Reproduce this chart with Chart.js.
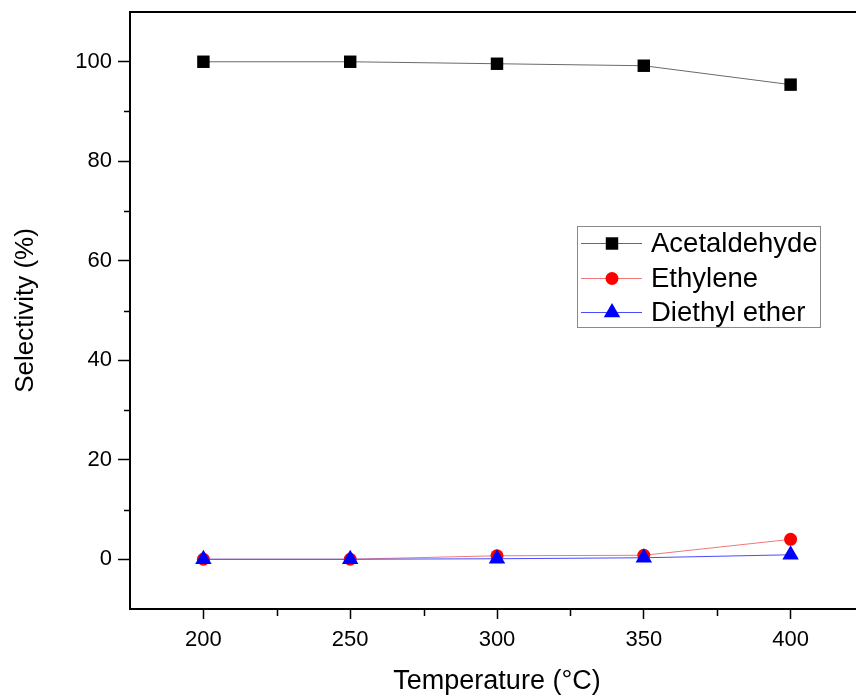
<!DOCTYPE html>
<html>
<head>
<meta charset="utf-8">
<script src="https://cdn.jsdelivr.net/npm/chart.js@4.4.1/dist/chart.umd.min.js"></script>
<style>
html,body{margin:0;padding:0;overflow:hidden;background:#fff;}
#wrap{width:856px;height:697px;overflow:hidden;position:relative;}
#inner{position:absolute;left:0;top:0;width:890px;height:697px;}
canvas{display:block;width:890px;height:697px;}
</style>
</head>
<body>
<div id="wrap"><div id="inner"><canvas id="c" width="890" height="697" style="width:890px;height:697px"></canvas></div></div>
<script>
const temperatures = [200, 250, 300, 350, 400];
const acetaldehyde = [100, 100, 99.6, 99.2, 95.4];
const ethylene = [0, 0, 0.7, 0.8, 4.0];
const diethylEther = [0, 0, 0.1, 0.3, 0.9];
const seriesNames = ['Acetaldehyde', 'Ethylene', 'Diethyl ether'];
const xTicks = [200, 250, 300, 350, 400];
const xMinorTicks = [225, 275, 325, 375, 425];
const yTicks = [0, 20, 40, 60, 80, 100];
const yMinorTicks = [10, 30, 50, 70, 90];

const FONT = '"Liberation Sans", Arial, sans-serif';
const PLOT_RIGHT = 864;
const toXY = (arr) => arr.map((v, i) => ({x: temperatures[i], y: v}));

const styles = [
  {line: '#6a6a6a', fill: '#000000', pointStyle: 'rect', radius: 8.8},
  {line: '#f07878', fill: '#ff0000', pointStyle: 'circle', radius: 6.5},
  {line: '#4a4aff', fill: '#0000ff', pointStyle: 'triangle', radius: 9.5}
];

const seriesData = [acetaldehyde, ethylene, diethylEther];
const datasets = seriesData.map((d, i) => ({
  label: seriesNames[i],
  data: toXY(d),
  borderColor: styles[i].line,
  borderWidth: 1,
  backgroundColor: styles[i].fill,
  pointStyle: styles[i].pointStyle,
  pointRadius: styles[i].radius,
  pointHoverRadius: styles[i].radius,
  pointBackgroundColor: styles[i].fill,
  pointBorderColor: styles[i].fill,
  pointBorderWidth: 0,
  tension: 0,
  clip: false,
  order: 2 - i
}));

const extras = {
  id: 'extras',
  afterDraw(chart) {
    const ctx = chart.ctx;
    const ca = chart.chartArea;
    const xs = chart.scales.x, ys = chart.scales.y;
    ctx.save();
    // top border
    ctx.strokeStyle = '#000';
    ctx.lineWidth = 2;
    ctx.beginPath();
    ctx.moveTo(ca.left - 1, ca.top);
    ctx.lineTo(ca.right, ca.top);
    ctx.stroke();
    // minor ticks
    ctx.lineWidth = 1.5;
    ctx.beginPath();
    yMinorTicks.forEach(v => {
      const py = Math.round(ys.getPixelForValue(v)) + 0.5;
      ctx.moveTo(ca.left, py);
      ctx.lineTo(ca.left - 6, py);
    });
    xMinorTicks.forEach(v => {
      const px = Math.round(xs.getPixelForValue(v)) + 0.5;
      ctx.moveTo(px, ca.bottom);
      ctx.lineTo(px, ca.bottom + 7);
    });
    ctx.stroke();
    // legend
    const bx = 577.5, by = 226.5, bw = 243, bh = 101;
    ctx.fillStyle = '#fff';
    ctx.fillRect(bx, by, bw, bh);
    ctx.strokeStyle = '#8a8a8a';
    ctx.lineWidth = 1;
    ctx.strokeRect(bx, by, bw, bh);
    const rows = [243, 278, 312];
    chart.data.datasets.forEach((ds, i) => {
      const ry = rows[i] + 0.5;
      ctx.strokeStyle = styles[i].line;
      ctx.lineWidth = 1;
      ctx.beginPath();
      ctx.moveTo(581, ry);
      ctx.lineTo(642, ry);
      ctx.stroke();
      ctx.fillStyle = styles[i].fill;
      ctx.strokeStyle = styles[i].fill;
      Chart.helpers.drawPoint(ctx, {pointStyle: styles[i].pointStyle, radius: styles[i].radius, rotation: 0, borderWidth: 0}, 612, ry);
      ctx.fillStyle = '#000';
      ctx.font = '27.5px ' + FONT;
      ctx.textAlign = 'left';
      ctx.textBaseline = 'middle';
      ctx.fillText(ds.label, 651, ry + 1);
    });
    ctx.restore();
  }
};

const chart = new Chart(document.getElementById('c'), {
  type: 'line',
  data: {datasets},
  options: {
    responsive: false,
    maintainAspectRatio: false,
    animation: false,
    devicePixelRatio: 1,
    layout: {padding: {left: 0, top: 12, right: 26, bottom: 0}},
    plugins: {legend: {display: false}, tooltip: {enabled: false}},
    scales: {
      x: {
        type: 'linear',
        min: 175, max: 425,
        afterBuildTicks: s => { s.ticks = xTicks.map(v => ({value: v})); },
        afterFit: s => { s.height = 88; s.paddingLeft = 0; s.paddingRight = 0; },
        grid: {display: true, drawOnChartArea: false, drawTicks: true, tickLength: 10, tickWidth: 1.5, tickColor: '#000'},
        border: {display: true, color: '#000', width: 2},
        ticks: {color: '#000', font: {family: FONT, size: 22}, padding: 8, maxRotation: 0, callback: v => String(v)},
        title: {display: true, text: 'Temperature (°C)', color: '#000', font: {family: FONT, size: 27}, padding: {top: 0, bottom: -1}}
      },
      y: {
        type: 'linear',
        min: -10, max: 110,
        afterBuildTicks: s => { s.ticks = yTicks.map(v => ({value: v})); },
        afterFit: s => { s.width = 130; s.paddingTop = 0; s.paddingBottom = 0; },
        grid: {display: true, drawOnChartArea: false, drawTicks: true, tickLength: 12, tickWidth: 1.5, tickColor: '#000'},
        border: {display: true, color: '#000', width: 2},
        ticks: {color: '#000', font: {family: FONT, size: 22}, padding: 6, callback: v => String(v)},
        title: {display: true, text: 'Selectivity (%)', color: '#000', font: {family: FONT, size: 26}, padding: {top: 10, bottom: 0}}
      }
    }
  },
  plugins: [extras]
});
// calibrate the right edge of the plot area (it lies beyond the visible window, as in the reference)
for (let k = 0; k < 3; k++) {
  const diff = chart.chartArea.right - PLOT_RIGHT;
  if (Math.abs(diff) < 0.5) break;
  chart.options.layout.padding.right += diff;
  chart.update();
}
</script>
</body>
</html>
